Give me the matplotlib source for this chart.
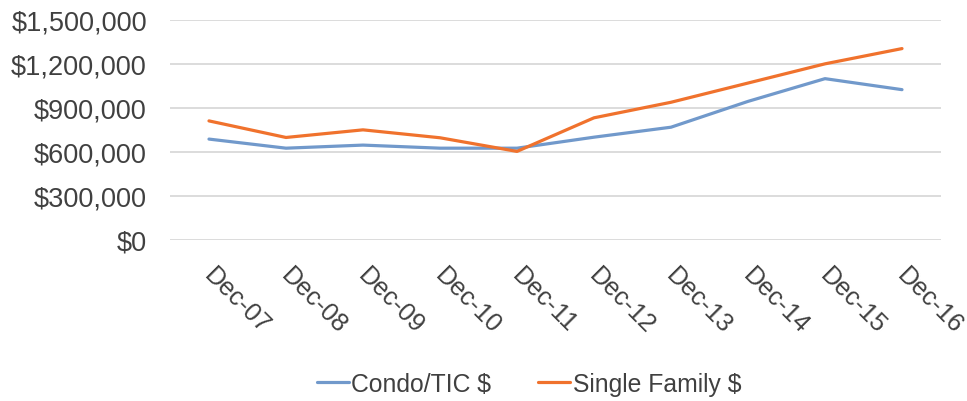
import matplotlib
matplotlib.use('Agg')
import matplotlib.pyplot as plt
import matplotlib.transforms as mtransforms
from matplotlib.ticker import FuncFormatter, MultipleLocator

OUTPUT_PATH = 'out.png'

periods = ['Dec-07', 'Dec-08', 'Dec-09', 'Dec-10', 'Dec-11',
           'Dec-12', 'Dec-13', 'Dec-14', 'Dec-15', 'Dec-16']
condo_tic = [688000, 626000, 647000, 626000, 626000,
             701000, 769000, 945000, 1100000, 1025000]
single_family = [812000, 699000, 751000, 697000, 604000,
                 833000, 939000, 1070000, 1201000, 1305000]

BLUE = '#7199CB'
ORANGE = '#F0722D'
TEXT = '#404040'
GRID = '#D9D9D9'

plt.rcParams['font.family'] = ['Liberation Sans', 'DejaVu Sans']
plt.rcParams['font.size'] = 17

fig = plt.figure(figsize=(9.67, 4.02), dpi=100)
ax = fig.add_axes([0.1763, 0.4005, 0.7963, 0.5473])

x = list(range(len(periods)))
ax.plot(x, condo_tic, color=BLUE, lw=2.3, label='Condo/TIC $', solid_capstyle='round')
ax.plot(x, single_family, color=ORANGE, lw=2.3, label='Single Family $', solid_capstyle='round')

ax.set_xlim(-0.5, len(periods) - 0.5)
ax.set_ylim(0, 1500000)
ax.yaxis.set_major_locator(MultipleLocator(300000))
ax.yaxis.set_major_formatter(FuncFormatter(lambda v, _: f'${v:,.0f}'))
ax.grid(axis='y', color=GRID, lw=1.3)
ax.set_axisbelow(True)
for s in ax.spines.values():
    s.set_visible(False)

ax.tick_params(axis='y', length=0, pad=17, colors=TEXT, labelsize=19.5)
ax.tick_params(axis='x', length=0, pad=16, colors=TEXT, labelsize=18.3)
ax.set_xticks(x)
ax.set_xticklabels(periods, rotation=-45, ha='left', va='top')
shift = mtransforms.ScaledTranslation(-10 / 100, 0, fig.dpi_scale_trans)
for lbl in ax.get_xticklabels():
    lbl.set_transform(lbl.get_transform() + shift)

fig.legend(loc='center', bbox_to_anchor=(0.547, 0.042), ncol=2, frameon=False,
           handlelength=1.3, handletextpad=0.1, columnspacing=1.9,
           fontsize=17.8, labelcolor=TEXT)

plt.savefig(OUTPUT_PATH, dpi=100)
plt.close()
